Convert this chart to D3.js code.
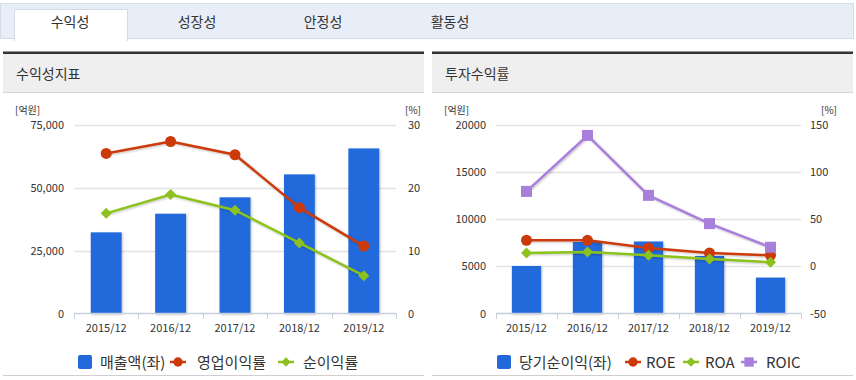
<!DOCTYPE html>
<html><head><meta charset="utf-8">
<script src="https://cdn.jsdelivr.net/npm/d3@7"></script>
<style>
body{margin:0;background:#fff;font-family:"Noto Sans CJK KR","Noto Sans",sans-serif;}
svg text{font-family:"Noto Sans CJK KR","Noto Sans",sans-serif;}
</style></head><body>
<svg id="c" width="856" height="380"></svg>
<script>
const tabs = ["수익성","성장성","안정성","활동성"];
const years = ["2015/12","2016/12","2017/12","2018/12","2019/12"];
// Left chart
const leftTitle = "수익성지표";
const sales = [32200, 39600, 46100, 55200, 65500];
const opMargin = [25.4, 27.3, 25.2, 16.8, 10.7];
const netMargin = [15.9, 18.9, 16.4, 11.2, 6.0];
const leftTicksL = [0, 25000, 50000, 75000];
const leftTicksR = [0, 10, 20, 30];
// Right chart
const rightTitle = "투자수익률";
const netIncome = [5030, 7560, 7620, 6090, 3800];
const roe = [27.5, 27.4, 19.4, 14.1, 11.6];
const roa = [14.1, 15.2, 11.6, 7.8, 4.3];
const roic = [79.2, 138.4, 75.0, 45.1, 20.1];
const rightTicksL = [0, 5000, 10000, 15000, 20000];
const rightTicksR = [-50, 0, 50, 100, 150];

const BLUE = "#2369dc", RED = "#cc3a0a", GREEN = "#8cc21f", PURPLE = "#a97fdc";
const svg = d3.select("#c");
const defs = svg.append("defs");
const f = defs.append("filter").attr("id","sh").attr("x","-20%").attr("y","-20%").attr("width","140%").attr("height","140%");
f.append("feDropShadow").attr("dx",1).attr("dy",1).attr("stdDeviation",1).attr("flood-color","#000").attr("flood-opacity",0.25);

// Tab bar
svg.append("rect").attr("x",0.5).attr("y",3.5).attr("width",853).attr("height",35).attr("fill","#e8eef8").attr("stroke","#d3dbe6");
svg.append("rect").attr("x",14.5).attr("y",9.5).attr("width",113).attr("height",31).attr("fill","#fff").attr("stroke","#d3dbe6");
svg.append("rect").attr("x",15).attr("y",37).attr("width",112).attr("height",4).attr("fill","#fff");
const tabX = [70, 197, 323, 450];
svg.selectAll(".tab").data(tabs).join("text").attr("x",(d,i)=>tabX[i]).attr("y",27)
  .attr("text-anchor","middle").attr("font-size",14).attr("fill","#333").text(d=>d);

function panel(x0, x1, title){
  svg.append("rect").attr("x",x0).attr("y",54).attr("width",x1-x0).attr("height",38).attr("fill","#efefef");
  svg.append("rect").attr("x",x0).attr("y",51.5).attr("width",x1-x0).attr("height",2.5).attr("fill","#333");
  svg.append("line").attr("x1",x0).attr("x2",x1).attr("y1",92.5).attr("y2",92.5).attr("stroke","#d8d8d8");
  svg.append("line").attr("x1",x0).attr("x2",x1).attr("y1",375.5).attr("y2",375.5).attr("stroke","#cfcfcf");
  svg.append("text").attr("x",x0+13).attr("y",79).attr("font-size",14).attr("fill","#333").text(title);
}
panel(3, 424, leftTitle);
panel(432, 853, rightTitle);

function chart(o){
  const g = svg.append("g");
  const x = d3.scaleBand().domain(years).range([o.px0, o.px1]).paddingInner(0.52).paddingOuter(0.26);
  const yL = d3.scaleLinear().domain(o.domL).range([313.5, 124.5]);
  const yR = d3.scaleLinear().domain(o.domR).range([313.5, 124.5]);
  // gridlines
  g.selectAll(".gl").data(o.ticksL.slice(1)).join("line")
    .attr("x1",o.px0).attr("x2",o.px1).attr("y1",d=>Math.round(yL(d))+0.5).attr("y2",d=>Math.round(yL(d))+0.5)
    .attr("stroke","#e2e2e2").attr("stroke-width",1.5);
  // left axis labels
  g.selectAll(".ll").data(o.ticksL).join("text").attr("x",o.lx).attr("y",d=>yL(d)+4)
    .attr("text-anchor","end").attr("font-size",11).attr("fill","#333").text(d=>o.fmtL(d));
  g.selectAll(".rl").data(o.ticksR).join("text").attr("x",o.rx).attr("y",d=>yR(d)+4)
    .attr("text-anchor","start").attr("font-size",11).attr("fill","#333").text(d=>d);
  g.append("text").attr("x",o.unitLx).attr("y",114).attr("font-size",10).attr("fill","#333").text("[억원]");
  g.append("text").attr("x",o.unitRx).attr("y",114).attr("text-anchor","end").attr("font-size",10).attr("fill","#333").text("[%]");
  // bars
  g.selectAll(".bar").data(o.bars).join("rect")
    .attr("x",(d,i)=>x(years[i])).attr("width",x.bandwidth())
    .attr("y",d=>yL(d)).attr("height",d=>yL(0)-yL(d)).attr("fill",BLUE).attr("filter","url(#sh)");
  // x axis
  const step = x.step();
  const edges = d3.range(years.length+1).map(i=>o.px0 + i*(o.px1-o.px0)/years.length);
  g.append("line").attr("x1",o.px0).attr("x2",o.px1).attr("y1",313.5).attr("y2",313.5).attr("stroke","#c5d0dc").attr("stroke-width",1.5);
  g.selectAll(".tk").data(edges).join("line").attr("x1",d=>Math.round(d)+0.5).attr("x2",d=>Math.round(d)+0.5)
    .attr("y1",313).attr("y2",319).attr("stroke","#c5d0dc");
  g.selectAll(".xl").data(years).join("text").attr("x",d=>x(d)+x.bandwidth()/2).attr("y",332)
    .attr("text-anchor","middle").attr("font-size",11).attr("fill","#333").text(d=>d);
  // lines
  o.lines.forEach(s=>{
    const line = d3.line().x((d,i)=>x(years[i])+x.bandwidth()/2).y(d=>yR(d));
    g.append("path").datum(s.values).attr("d",line).attr("fill","none").attr("stroke",s.color).attr("stroke-width",2.5).attr("filter","url(#sh)");
    s.values.forEach((v,i)=>{
      const cx = x(years[i])+x.bandwidth()/2, cy = yR(v);
      marker(g, s.shape, cx, cy, s.color);
    });
  });
  // legend
  const lg = svg.append("g");
  o.legend.forEach(it=>{
    if(it.type==="bar"){
      lg.append("rect").attr("x",it.mx).attr("y",355).attr("width",14).attr("height",14).attr("rx",2).attr("fill",BLUE);
    } else {
      lg.append("line").attr("x1",it.mx).attr("x2",it.mx+16).attr("y1",362).attr("y2",362).attr("stroke",it.color).attr("stroke-width",2.5);
      marker(lg, it.shape, it.mx+8, 362, it.color, 0.85);
    }
    lg.append("text").attr("x",it.tx).attr("y",368).attr("font-size",15).attr("fill","#333").text(it.label);
  });
}
function marker(g, shape, cx, cy, color, s=1){
  if(shape==="circle") g.append("circle").attr("cx",cx).attr("cy",cy).attr("r",5.5*s).attr("fill",color);
  else if(shape==="diamond") g.append("path").attr("d",`M${cx},${cy-5.5*s}L${cx+5.5*s},${cy}L${cx},${cy+5.5*s}L${cx-5.5*s},${cy}Z`).attr("fill",color);
  else g.append("rect").attr("x",cx-5.5*s).attr("y",cy-5.5*s).attr("width",11*s).attr("height",11*s).attr("fill",color);
}
const fmtComma = d3.format(",");
chart({px0:74, px1:396, domL:[0,75000], domR:[0,30], ticksL:leftTicksL, ticksR:leftTicksR,
  fmtL:d=>fmtComma(d), lx:64, rx:408, unitLx:15, unitRx:421, bars:sales,
  lines:[{values:opMargin,color:RED,shape:"circle"},{values:netMargin,color:GREEN,shape:"diamond"}],
  legend:[{type:"bar",mx:78,tx:100,label:"매출액(좌)"},
          {type:"line",mx:170,tx:197,label:"영업이익률",color:RED,shape:"circle"},
          {type:"line",mx:278,tx:303,label:"순이익률",color:GREEN,shape:"diamond"}]});
chart({px0:496, px1:801, domL:[0,20000], domR:[-50,150], ticksL:rightTicksL, ticksR:rightTicksR,
  fmtL:d=>d, lx:486, rx:810, unitLx:444, unitRx:837, bars:netIncome,
  lines:[{values:roe,color:RED,shape:"circle"},{values:roa,color:GREEN,shape:"diamond"},{values:roic,color:PURPLE,shape:"square"}],
  legend:[{type:"bar",mx:497,tx:519,label:"당기순이익(좌)"},
          {type:"line",mx:625,tx:646,label:"ROE",color:RED,shape:"circle"},
          {type:"line",mx:683,tx:705,label:"ROA",color:GREEN,shape:"diamond"},
          {type:"line",mx:741,tx:766,label:"ROIC",color:PURPLE,shape:"square"}]});
</script></body></html>
